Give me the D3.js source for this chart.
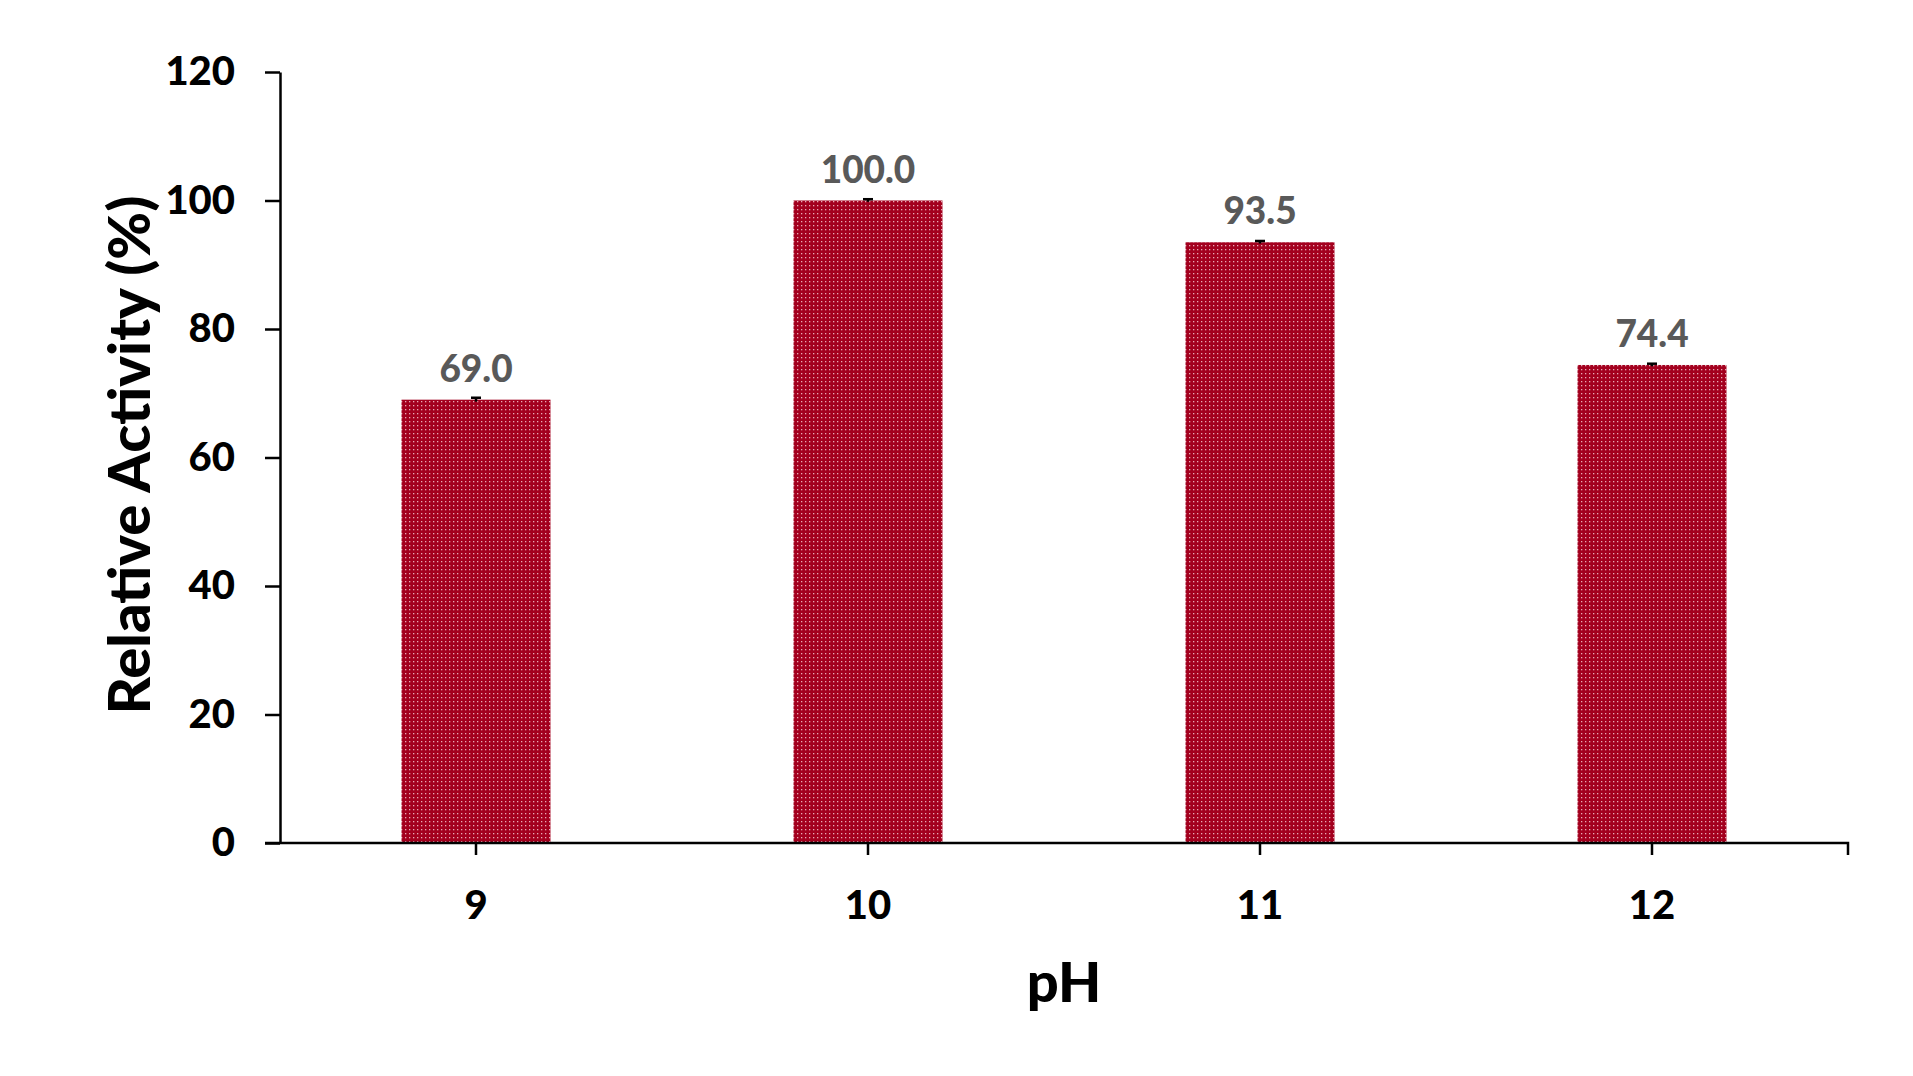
<!DOCTYPE html>
<html><head><meta charset="utf-8">
<script src="https://cdn.jsdelivr.net/npm/d3@7"></script>
<style>body{margin:0;background:#fff;} svg{display:block;}</style>
</head><body>
<svg id="chart" width="1913" height="1076"></svg>
<script>
const categories = ["9", "10", "11", "12"];
const values = [69.0, 100.0, 93.5, 74.4];
const errors = [0.3, 0.2, 0.2, 0.2];
const yTicks = [0, 20, 40, 60, 80, 100, 120];

const svg = d3.select("#chart");
const font = "Lato, 'Open Sans', sans-serif";
const W = 900;
const x0 = 280, x1 = 1848, yTop = 72, yBot = 843;

const defs = svg.append("defs");
const pat = defs.append("pattern").attr("id","dots").attr("patternUnits","userSpaceOnUse")
  .attr("width",4).attr("height",4);
pat.append("rect").attr("width",4).attr("height",4).attr("fill","#A3001E");
pat.append("rect").attr("x",1).attr("y",1).attr("width",1.3).attr("height",1.3).attr("fill","#E8AAB5");

const x = d3.scaleBand().domain(categories).range([x0, x1]).paddingInner(0.62).paddingOuter(0.31);
const y = d3.scaleLinear().domain([0, 120]).range([yBot, yTop]);

// bars
svg.append("g").selectAll("rect").data(values).join("rect")
  .attr("x", (d,i) => x(categories[i]))
  .attr("y", d => y(d))
  .attr("width", x.bandwidth())
  .attr("height", d => y(0) - y(d))
  .attr("fill", "url(#dots)");

// error bars
const eg = svg.append("g").attr("stroke","#000").attr("stroke-width",2.5);
values.forEach((v,i) => {
  const cx = x(categories[i]) + x.bandwidth()/2;
  eg.append("line").attr("x1",cx).attr("x2",cx).attr("y1",y(v+errors[i])).attr("y2",y(v-errors[i]));
  eg.append("line").attr("x1",cx-5).attr("x2",cx+5).attr("y1",y(v+errors[i])).attr("y2",y(v+errors[i]));
});

// data labels
svg.append("g").selectAll("text").data(values).join("text")
  .attr("x", (d,i) => x(categories[i]) + x.bandwidth()/2)
  .attr("y", d => y(d) - 18)
  .attr("text-anchor","middle")
  .attr("font-family", font).attr("font-weight",W).attr("font-size",37)
  .attr("fill","#595959")
  .text(d => d.toFixed(1));

// y axis
const yAxis = svg.append("g").attr("transform",`translate(${x0},0)`)
  .call(d3.axisLeft(y).tickValues(yTicks).tickSize(15).tickPadding(30).tickSizeOuter(0));
yAxis.select(".domain").attr("stroke","#000").attr("stroke-width",2.5);
yAxis.selectAll(".tick line").attr("stroke","#000").attr("stroke-width",2.5);
yAxis.selectAll(".tick text").attr("font-family",font).attr("font-weight",W)
  .attr("font-size",40).attr("fill","#000");

// x axis
const xAxis = svg.append("g").attr("transform",`translate(0,${yBot})`)
  .call(d3.axisBottom(x).tickSize(12).tickPadding(36).tickSizeOuter(12));
xAxis.select(".domain").attr("stroke","#000").attr("stroke-width",2.5)
  .attr("d", `M${x0-15},0H${x1}V12`);
xAxis.selectAll(".tick line").attr("stroke","#000").attr("stroke-width",2.5);
xAxis.selectAll(".tick text").attr("font-family",font).attr("font-weight",W)
  .attr("font-size",40).attr("fill","#000");

// axis titles
svg.append("text").attr("x",1064).attr("y",1002).attr("text-anchor","middle")
  .attr("font-family",font).attr("font-weight",W).attr("font-size",56).attr("fill","#000")
  .text("pH");
svg.append("text").attr("transform","translate(150,455) rotate(-90)").attr("text-anchor","middle")
  .attr("font-family",font).attr("font-weight",W).attr("font-size",58).attr("fill","#000")
  .text("Relative Activity (%)");
</script>
</body></html>
